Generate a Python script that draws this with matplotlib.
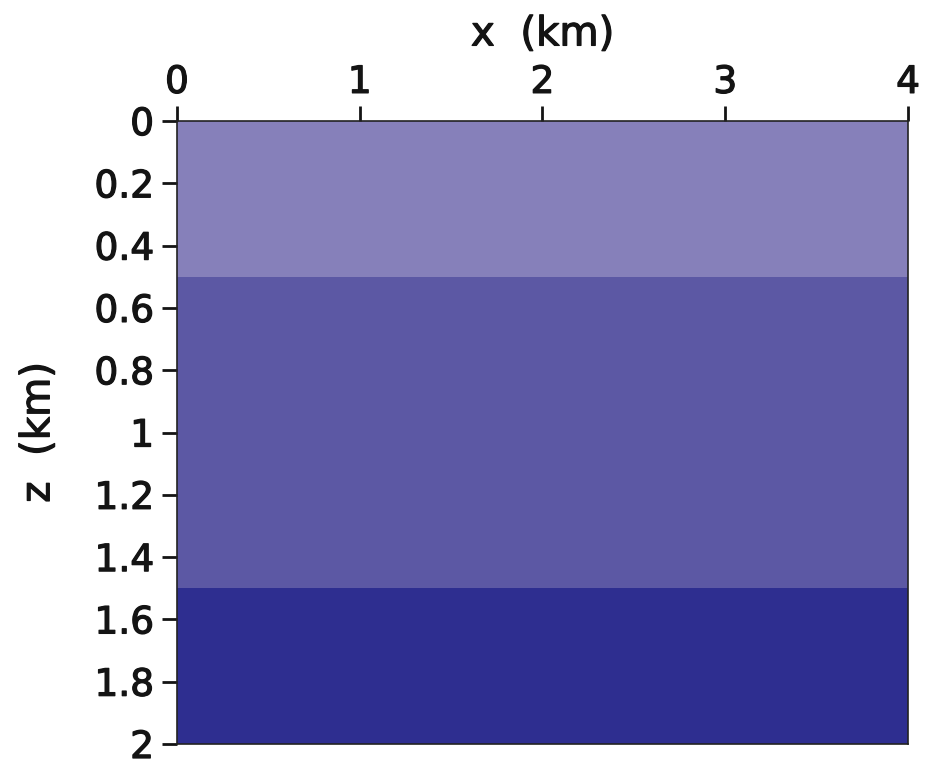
import numpy as np
import matplotlib
matplotlib.use("Agg")
from matplotlib import pyplot as plt
from matplotlib import patheffects
from matplotlib.colors import ListedColormap

# three flat layers of the model (depths in km)
x_extent = [0.0, 4.0]
layer_tops = [0.0, 0.5, 1.5]
layer_bottoms = [0.5, 1.5, 2.0]
layer_colors = ['#8680ba', '#5c58a4', '#2e2e90']

x_ticks = [0, 1, 2, 3, 4]
z_ticks = [0, 0.2, 0.4, 0.6, 0.8, 1, 1.2, 1.4, 1.6, 1.8, 2]
z_ticklabels = ['0', '0.2', '0.4', '0.6', '0.8', '1', '1.2', '1.4', '1.6', '1.8', '2']

plt.rcParams['font.family'] = ['DejaVu Sans']
ink = '#141414'
bold_fx = [patheffects.withStroke(linewidth=0.9, foreground=ink)]

fig = plt.figure(figsize=(9.27, 7.63), dpi=100)
ax = fig.add_axes([0.1909, 0.0249, 0.7886, 0.8165])

z_edges = np.array(layer_tops + [layer_bottoms[-1]])
layer_id = np.arange(len(layer_tops)).reshape(-1, 1)
ax.pcolormesh(x_extent, z_edges, layer_id, cmap=ListedColormap(layer_colors),
              vmin=-0.5, vmax=len(layer_colors) - 0.5, shading='flat')

ax.set_xlim(x_extent)
ax.set_ylim(layer_bottoms[-1], layer_tops[0])
ax.xaxis.tick_top()
ax.xaxis.set_label_position('top')
ax.set_xticks(x_ticks)
ax.set_yticks(z_ticks)
ax.set_yticklabels(z_ticklabels)
ax.tick_params(direction='out', length=10.5, width=2, labelsize=27, color=ink,
               labelcolor=ink)
ax.tick_params(axis='y', pad=6)
ax.tick_params(axis='x', pad=4)
for lab in ax.get_xticklabels() + ax.get_yticklabels():
    lab.set_path_effects(bold_fx)
ax.set_xlabel('x  (km)', fontsize=29, labelpad=14, color=ink, path_effects=bold_fx)
ax.set_ylabel('z  (km)', fontsize=29, labelpad=26, color=ink, path_effects=bold_fx)
for sp in ax.spines.values():
    sp.set_linewidth(1.2)
    sp.set_color('#222222')

fig.savefig('out.png', dpi=100)
